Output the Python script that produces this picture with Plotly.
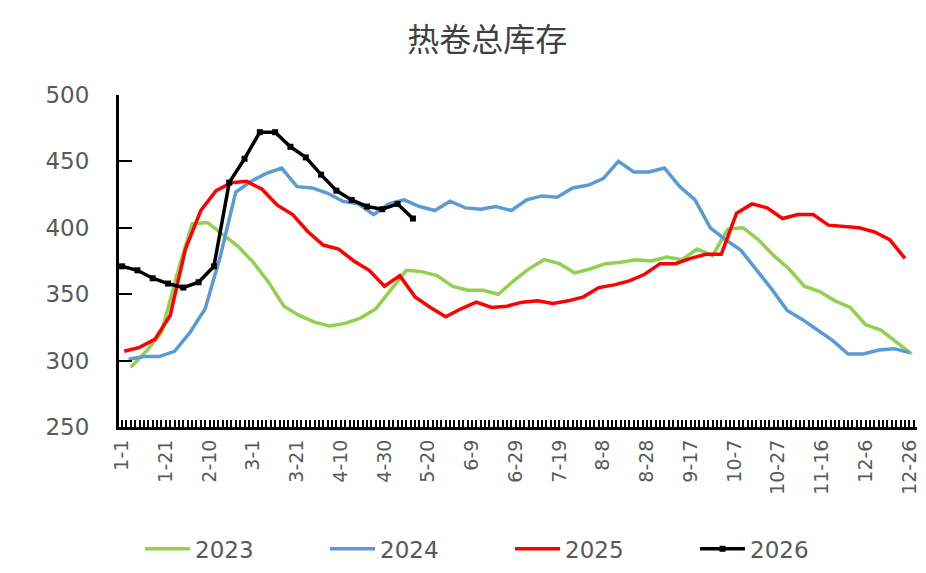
import plotly.graph_objects as go

# weekly hot-rolled coil total inventory (万吨), one list per year
years = ["2023", "2024", "2025", "2026"]
start_days = [4, 3, 1, 0]  # day-of-year of the first weekly reading

inv_2023 = [295, 307, 321, 364, 403, 404, 395, 386, 374, 359, 341, 334, 329, 326,
            328, 332, 339, 354, 368, 367, 364, 356, 353, 353, 350, 360, 369, 376,
            373, 366, 369, 373, 374, 376, 375, 378, 376, 384, 379, 399, 400, 391,
            379, 369, 356, 352, 345, 340, 327, 323, 314, 305]
inv_2024 = [301, 303, 303, 307, 321, 339, 379, 427, 435, 441, 445, 431, 430, 426,
            420, 418, 410, 418, 421, 416, 413, 420, 415, 414, 416, 413, 421, 424,
            423, 430, 432, 437, 450, 442, 442, 445, 431, 421, 400, 391, 383, 369,
            354, 338, 331, 323, 315, 305, 305, 308, 309, 306]
inv_2025 = [307, 310, 316, 334, 384, 413, 428, 434, 435, 429, 417, 410, 397, 387,
            384, 375, 368, 356, 364, 348, 340, 333, 339, 344, 340, 341, 344, 345,
            343, 345, 348, 355, 357, 360, 365, 373, 373, 377, 380, 380, 411, 418,
            415, 407, 410, 410, 402, 401, 400, 397, 391, 377]
inv_2026 = [371, 368, 362, 358, 355, 359, 371, 434, 452, 472, 472, 461, 453, 440,
            428, 421, 416, 414, 418, 407]

tick_days = list(range(0, 361, 20))
tick_labels = ["1-1", "1-21", "2-10", "3-1", "3-21", "4-10", "4-30", "5-20", "6-9",
               "6-29", "7-19", "8-8", "8-28", "9-17", "10-7", "10-27", "11-16",
               "12-6", "12-26"]

colors = ["#92D050", "#5B9BD5", "#FF0000", "#000000"]
series = [inv_2023, inv_2024, inv_2025, inv_2026]

fig = go.Figure()
for name, start, vals, col in zip(years, start_days, series, colors):
    xs = [start + 7 * i for i in range(len(vals))]
    is_2026 = name == "2026"
    fig.add_trace(go.Scatter(
        x=xs, y=vals, name=name,
        mode="lines+markers" if is_2026 else "lines",
        line=dict(color=col, width=3.5),
        marker=dict(symbol="square", size=6, color=col),
    ))

# the page body keeps its default 8px margin, so the figure is 8px smaller
fig.update_layout(
    width=918, height=565,
    paper_bgcolor="white", plot_bgcolor="white",
    margin=dict(l=111, r=9, t=87, b=146, autoexpand=False),
    font=dict(family="DejaVu Sans", color="#595959"),
    title=dict(text="热卷总库存", x=0.522, xanchor="center", y=0.943, yanchor="middle",
               font=dict(family="Noto Sans CJK SC", size=32, color="#404040")),
    legend=dict(orientation="h", x=0.49, xanchor="center", y=-0.367, yanchor="middle",
                font=dict(size=23, color="#595959"), entrywidth=125,
                itemwidth=45, traceorder="normal"),
    showlegend=True,
)

fig.update_xaxes(
    range=[-1.4, 363.5], tickmode="array", tickvals=tick_days, ticktext=tick_labels,
    tickangle=-90, tickfont=dict(size=19, color="#595959"),
    ticks="inside", ticklen=7, tickwidth=2, tickcolor="black",
    minor=dict(dtick=2, tick0=0, ticks="inside", ticklen=7, tickwidth=2,
               tickcolor="black"),
    showline=True, linecolor="black", linewidth=3, showgrid=False, zeroline=False,
    ticklabelstandoff=2, automargin=False,
)
fig.update_yaxes(
    range=[250, 500], dtick=50, tickfont=dict(size=23, color="#595959"),
    ticks="inside", ticklen=13, tickwidth=2, tickcolor="black",
    showline=True, linecolor="black", linewidth=3, showgrid=False, zeroline=False,
    ticklabelstandoff=22, automargin=False,
)

fig.write_html("out.html")
